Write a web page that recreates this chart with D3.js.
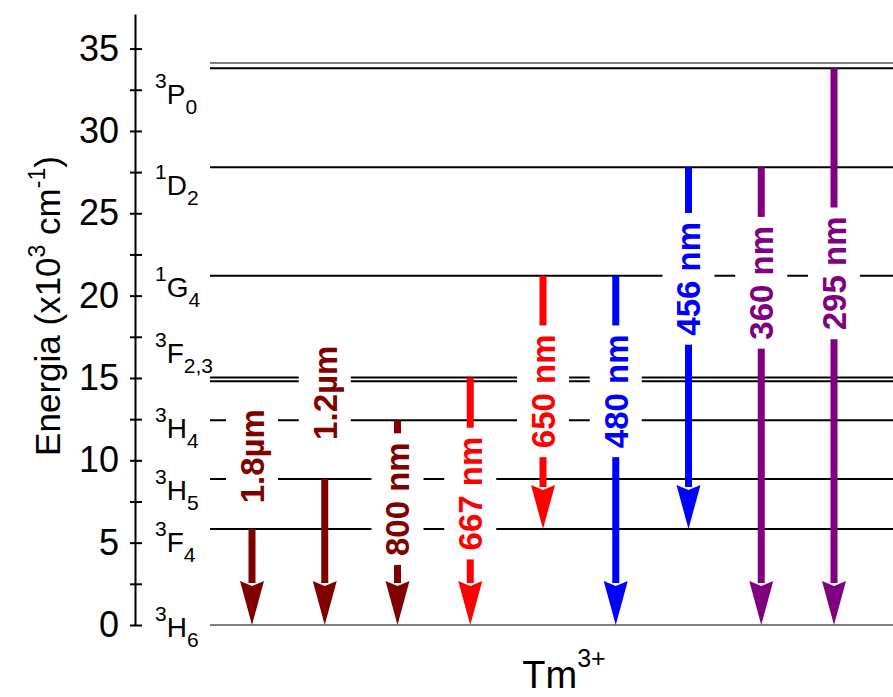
<!DOCTYPE html>
<html>
<head>
<meta charset="utf-8">
<script src="https://cdn.jsdelivr.net/npm/d3@7/dist/d3.min.js"></script>
<style>
  body { margin: 0; background: #fff; }
  text { font-family: "Liberation Sans", Arial, sans-serif; }
</style>
</head>
<body>
<div id="chart"></div>
<script>
var width = 893,
    height = 697,
    margin = {top: 14, left: 135, bottom: 72};

// Tm3+ energy levels (x10^3 cm^-1)
var levelSup   = ["3", "3", "3", "3", "3", "1", "1", "3"],
    levelTerm  = ["H", "F", "H", "H", "F", "G", "D", "P"],
    levelSub   = ["6", "4", "5", "4", "2,3", "4", "2", "0"],
    levelLines = [[0], [5.83], [8.86], [12.44], [14.8, 15.03], [21.2], [27.8], [33.8, 34.12]];
// energy where each level name is written
var levelLabelAt = [-0.73, 4.43, 7.58, 11.34, 15.89, 19.9, 26.08, 31.66];

// emissions
var transNames   = ["1.8\u00b5m", "1.2\u00b5m", "800 nm", "667 nm", "650 nm", "480 nm", "456 nm", "360 nm", "295 nm"],
    transFrom    = [5.83, 8.86, 12.44, 15.03, 21.2, 21.2, 27.8, 27.8, 33.8],
    transTo      = [0, 0, 0, 0, 5.83, 0, 5.83, 0, 0],
    transLabelAt = [10.25, 14.1, 7.64, 7.98, 14.19, 14.19, 21.02, 20.78, 21.35];
var transColors  = ["#800000", "#800000", "#800000", "#ff0000", "#ff0000", "#0000ff", "#0000ff", "#800080", "#800080"];

var yTicks = d3.range(0, 36, 2.5);

var y = d3.scaleLinear()
    .domain([0, 37.1])
    .range([height - margin.bottom, margin.top]);

var x = d3.scalePoint()
    .domain(transNames)
    .range([252, 834]);

var lineStart = 210;

var svg = d3.select("#chart").append("svg")
    .attr("width", width)
    .attr("height", height);

// axis
var yAxis = d3.axisLeft(y)
    .tickValues(yTicks)
    .tickSize(5)
    .tickSizeOuter(0)
    .tickPadding(11)
    .tickFormat(function(d) { return d % 5 === 0 ? d : ""; });

var ax = svg.append("g")
    .attr("transform", "translate(" + margin.left + ",0)")
    .call(yAxis);

ax.select(".domain").attr("stroke", "#000").attr("stroke-width", 2);
ax.selectAll(".tick line").attr("x1", 7).attr("stroke", "#000").attr("stroke-width", 2);
ax.selectAll(".tick text")
    .attr("fill", "#000")
    .style("font-size", "36px")
    .style("font-family", "'Liberation Sans', Arial, sans-serif");

// level lines
var flat = [];
levelLines.forEach(function(arr, i) {
  arr.forEach(function(e, j) { flat.push({level: i, k: j, e: e}); });
});

function thin(d) {
  return d.level === 0 || (d.level === levelLines.length - 1 && d.k === 1);
}

svg.selectAll(".level")
    .data(flat)
  .enter().append("line")
    .attr("class", "level")
    .attr("x1", lineStart)
    .attr("x2", width)
    .attr("y1", function(d) { return y(d.e); })
    .attr("y2", function(d) { return y(d.e); })
    .attr("stroke", function(d) { return thin(d) ? "#555" : "#000"; })
    .attr("stroke-width", function(d) { return thin(d) ? 1.5 : 2; });

// level names
levelTerm.forEach(function(t, i) {
  var lab = svg.append("text")
      .attr("x", lineStart - 55)
      .attr("y", y(levelLabelAt[i]))
      .attr("fill", "#000")
      .style("font-size", "28px");
  lab.append("tspan").text(levelSup[i]).style("font-size", "21px").attr("dy", -16);
  lab.append("tspan").text(t).attr("dy", 16);
  lab.append("tspan").text(levelSub[i]).style("font-size", "21px").attr("dy", 10);
});

// arrows
var headLen = 44, headW = 12;
var arrows = svg.selectAll(".arrow")
    .data(transNames)
  .enter().append("g")
    .attr("class", "arrow");

arrows.append("line")
    .attr("x1", function(d) { return x(d); })
    .attr("x2", function(d) { return x(d); })
    .attr("y1", function(d, i) { return y(transFrom[i]); })
    .attr("y2", function(d, i) { return y(transTo[i]) - headLen + 2; })
    .attr("stroke", function(d, i) { return transColors[i]; })
    .attr("stroke-width", 7);

arrows.append("path")
    .attr("d", function(d, i) {
      var cx = x(d), tip = y(transTo[i]);
      return "M" + (cx - headW) + "," + (tip - headLen) +
             "L" + cx + "," + (tip - headLen + 5) +
             "L" + (cx + headW) + "," + (tip - headLen) +
             "L" + cx + "," + tip + "Z";
    })
    .attr("fill", function(d, i) { return transColors[i]; });

// wavelength labels with white boxes
var labs = svg.selectAll(".wl")
    .data(transNames)
  .enter().append("g")
    .attr("class", "wl")
    .attr("transform", function(d, i) {
      return "translate(" + x(d) + "," + y(transLabelAt[i]) + ")";
    });

labs.append("rect").attr("fill", "#fff");

labs.append("text")
    .attr("transform", "rotate(-90)")
    .attr("text-anchor", "middle")
    .attr("dy", "0.36em")
    .attr("fill", function(d, i) { return transColors[i]; })
    .style("font-size", "33px")
    .style("font-weight", "bold")
    .text(function(d) { return d; });

labs.each(function() {
  var g = d3.select(this);
  var len = g.select("text").node().getComputedTextLength();
  g.select("rect")
      .attr("x", -26)
      .attr("width", 52)
      .attr("y", -len / 2 - 9)
      .attr("height", len + 18);
});

// axis title
var title = svg.append("text")
    .attr("transform", "translate(60,306) rotate(-90)")
    .attr("text-anchor", "middle")
    .attr("fill", "#000")
    .style("font-size", "35px");
title.append("tspan").text("Energia (x10");
title.append("tspan").text("3").style("font-size", "23px").attr("dy", -15);
title.append("tspan").text(" cm").attr("dy", 15);
title.append("tspan").text("-1").style("font-size", "23px").attr("dy", -15);
title.append("tspan").text(")").attr("dy", 15);

// ion label
var ion = svg.append("text")
    .attr("x", 564)
    .attr("y", 688)
    .attr("text-anchor", "middle")
    .attr("fill", "#000")
    .style("font-size", "38px");
ion.append("tspan").text("Tm");
ion.append("tspan").text("3+").style("font-size", "25px").attr("dy", -21);
</script>
</body>
</html>
